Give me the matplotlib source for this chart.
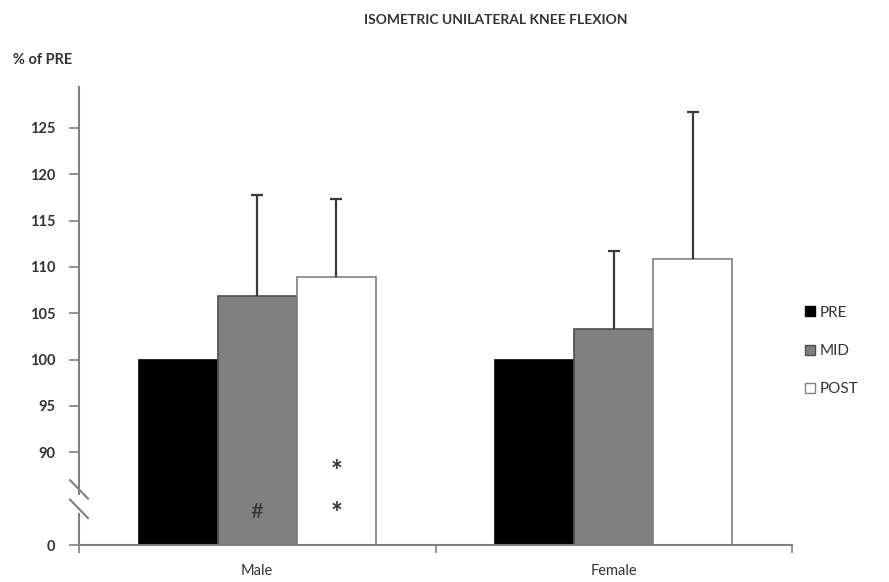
import numpy as np
import matplotlib
matplotlib.use('Agg')
import matplotlib.pyplot as plt
from matplotlib.patches import Patch

plt.rcParams['font.family'] = ['Lato', 'DejaVu Sans']

# values (% of PRE)
groups = ['Male', 'Female']
phases = ['PRE', 'MID', 'POST']
pre = [100.0, 100.0]
mid = [106.9, 103.3]
post = [108.9, 110.9]
pre_err = [0.0, 0.0]
mid_err = [10.9, 8.4]
post_err = [8.4, 15.8]
yticks = [90, 95, 100, 105, 110, 115, 120, 125]

base = 80.0          # where the broken axis puts "0"
width = 0.222
fills = ['black', '#808080', 'white']
edges = ['black', '#4d4d4d', '#808080']

fig = plt.figure(figsize=(8.89, 5.82), dpi=100)
ax = fig.add_axes([79 / 889, 37 / 582, 713 / 889, 458 / 582])

x = np.arange(len(groups))
series = [(pre, pre_err), (mid, mid_err), (post, post_err)]
for i, (vals, errs) in enumerate(series):
    xs = x + (i - 1) * width
    vals = np.array(vals)
    ax.bar(xs, vals - base, bottom=base, width=width, color=fills[i],
           edgecolor=edges[i], linewidth=1.2, zorder=2)
    if max(errs) > 0:
        eb = ax.errorbar(xs, vals, yerr=[np.zeros(len(errs)), errs], fmt='none',
                         ecolor='#3a3a3a', elinewidth=1.6, capsize=4.5,
                         capthick=1.6, zorder=3)
        # only the upper cap is shown
        eb.lines[1][0].set_visible(False)

ax.set_xlim(-0.5, 1.5)
ax.set_ylim(base, 129.4)

ax.set_yticks([base] + yticks)
ax.set_yticklabels(['0'] + [str(t) for t in yticks], fontweight='bold')
ax.set_xticks([-0.5, 0.5, 1.5])
ax.set_xticklabels([])
ax.set_xticks(x, minor=True)
ax.set_xticklabels(groups, minor=True)
ax.tick_params(axis='x', which='major', length=6, width=1.2, color='#808080', direction='out')
ax.tick_params(axis='x', which='minor', length=0, pad=14, labelsize=10.5, labelcolor='#333333')
ax.tick_params(axis='y', length=7, width=1.2, color='#808080', labelsize=10.5,
               labelcolor='#333333', pad=10)

for s in ['top', 'right']:
    ax.spines[s].set_visible(False)
ax.spines['bottom'].set_color('#808080')
ax.spines['bottom'].set_linewidth(1.5)
ax.spines['left'].set_visible(False)

# left axis line with a break between the two slashes
tr = ax.get_yaxis_transform()
ax.plot([0, 0], [85.5, 129.4], color='#808080', lw=1.5, transform=tr, clip_on=False)
ax.plot([0, 0], [base, 83.3], color='#808080', lw=1.5, transform=tr, clip_on=False)
dx = 9 / 713
for yc in [86.0, 83.9]:
    ax.plot([-dx, dx], [yc + 1.0, yc - 1.0], color='#808080', lw=1.5,
            transform=tr, clip_on=False)

# significance marks
ax.text(x[0], 83.6, '#', ha='center', va='center', fontsize=16, color='#333333', zorder=4)
ax.text(x[0] + width, 87.9, '*', ha='center', va='center', fontsize=20,
        fontweight='bold', color='#333333', zorder=4)
ax.text(x[0] + width, 83.3, '*', ha='center', va='center', fontsize=20,
        fontweight='bold', color='#333333', zorder=4)

fig.text(496 / 889, 1 - 20 / 582, 'ISOMETRIC UNILATERAL KNEE FLEXION', ha='center',
         va='center', fontsize=10, fontweight='bold', color='#333333')
fig.text(13 / 889, 1 - 60 / 582, '% of PRE', ha='left', va='center',
         fontsize=10.5, fontweight='bold', color='#333333')

handles = [Patch(facecolor=fills[i], edgecolor=edges[i] if i else 'black', linewidth=1)
           for i in range(3)]
fig.legend(handles, phases, loc='center left', bbox_to_anchor=(805 / 889, 1 - 351 / 582),
           frameon=False, fontsize=11, handlelength=0.65, handleheight=0.65,
           handletextpad=0.3, labelspacing=1.6, borderpad=0, borderaxespad=0,
           labelcolor='#333333')

fig.savefig('out.png', dpi=100)
